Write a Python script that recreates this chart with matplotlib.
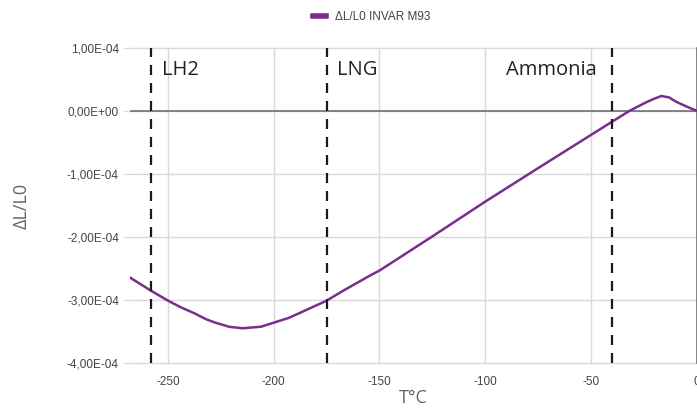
import matplotlib
matplotlib.use('Agg')
from matplotlib import pyplot as plt

plt.rcParams['axes.unicode_minus'] = False

# data
temps = [-268, -258, -250, -244, -237.5, -232, -228, -221, -214.7, -206, -200, -193, -187, -175,
         -166, -154, -150, -125, -100, -75, -50, -40, -31.6, -24, -20, -16.6, -13, -9.5, -5, 0]
dl_l0 = [-2.64, -2.85, -3.006, -3.11, -3.206, -3.30, -3.35, -3.42, -3.443, -3.418, -3.354, -3.28, -3.19, -3.006,
         -2.826, -2.60, -2.53, -1.99, -1.44, -0.91, -0.385, -0.175, 0.0, 0.13, 0.19, 0.233, 0.21, 0.14, 0.07, 0.0]
dl_l0 = [v * 1e-4 for v in dl_l0]

markers_t = [-258, -175, -40]
marker_names = ['LH2', 'LNG', 'Ammonia']
xticks = [-250, -200, -150, -100, -50, 0]
yticks = [1e-4, 0, -1e-4, -2e-4, -3e-4, -4e-4]
ytick_labels = ['1,00E-04', '0,00E+00', '-1,00E-04', '-2,00E-04', '-3,00E-04', '-4,00E-04']

fig = plt.figure(figsize=(6.97, 4.11), dpi=100)
ax = fig.add_axes([0.1865, 0.1156, 0.8128, 0.7688])

ax.set_xlim(-268, 0)
ax.set_ylim(-4e-4, 1e-4)
ax.set_xticks(xticks)
ax.set_yticks(yticks)
ax.set_yticklabels(ytick_labels)
ax.grid(True, color='#d9d9d9', lw=1)
ax.set_axisbelow(True)
for gl in ax.get_ygridlines() + ax.get_xgridlines():
	gl.set_clip_on(False)
for s in ax.spines.values():
	s.set_visible(False)
ax.tick_params(axis='y', length=5, color='#d9d9d9', pad=3, labelsize=8.5, labelcolor='#444444')
ax.tick_params(axis='x', length=0, pad=9, labelsize=8.5, labelcolor='#444444')
for lab in ax.get_xticklabels() + ax.get_yticklabels():
	lab.set_family('Liberation Sans')

ax.axhline(0, color='#666666', lw=1.1, zorder=1)
ax.axvline(0, color='#666666', lw=1.1, zorder=1, clip_on=False)

line, = ax.plot(temps, dl_l0, color='#7b2d8e', lw=1.8, zorder=3, label='ΔL/L0 INVAR M93')

for t in markers_t:
	ax.axvline(t, color='#1a1a1a', lw=1.6, linestyle=(0, (4.5, 3.6)), zorder=4)

ax.text(-253, 0.64e-4, marker_names[0], fontsize=14.5, color='#222222', va='center', ha='left', family='Open Sans')
ax.text(-170.3, 0.64e-4, marker_names[1], fontsize=14.5, color='#222222', va='center', ha='left', family='Open Sans')
ax.text(-47, 0.64e-4, marker_names[2], fontsize=14.5, color='#222222', va='center', ha='right', family='Open Sans')

ax.set_ylabel('ΔL/L0', fontsize=13, color='#666666', labelpad=26, family='Open Sans')
ax.set_xlabel('T°C', fontsize=13, color='#666666', labelpad=1, family='Open Sans')

fig.legend(handles=[line], loc='center', bbox_to_anchor=(0.533, 1 - 17 / 411), frameon=False,
		   labelcolor='#444444', handlelength=1.1, handletextpad=0.8,
		   prop={'family': 'Liberation Sans', 'size': 8.5})
for h in fig.legends[0].legend_handles:
	h.set_linewidth(4)

fig.savefig('out.png', dpi=100)
